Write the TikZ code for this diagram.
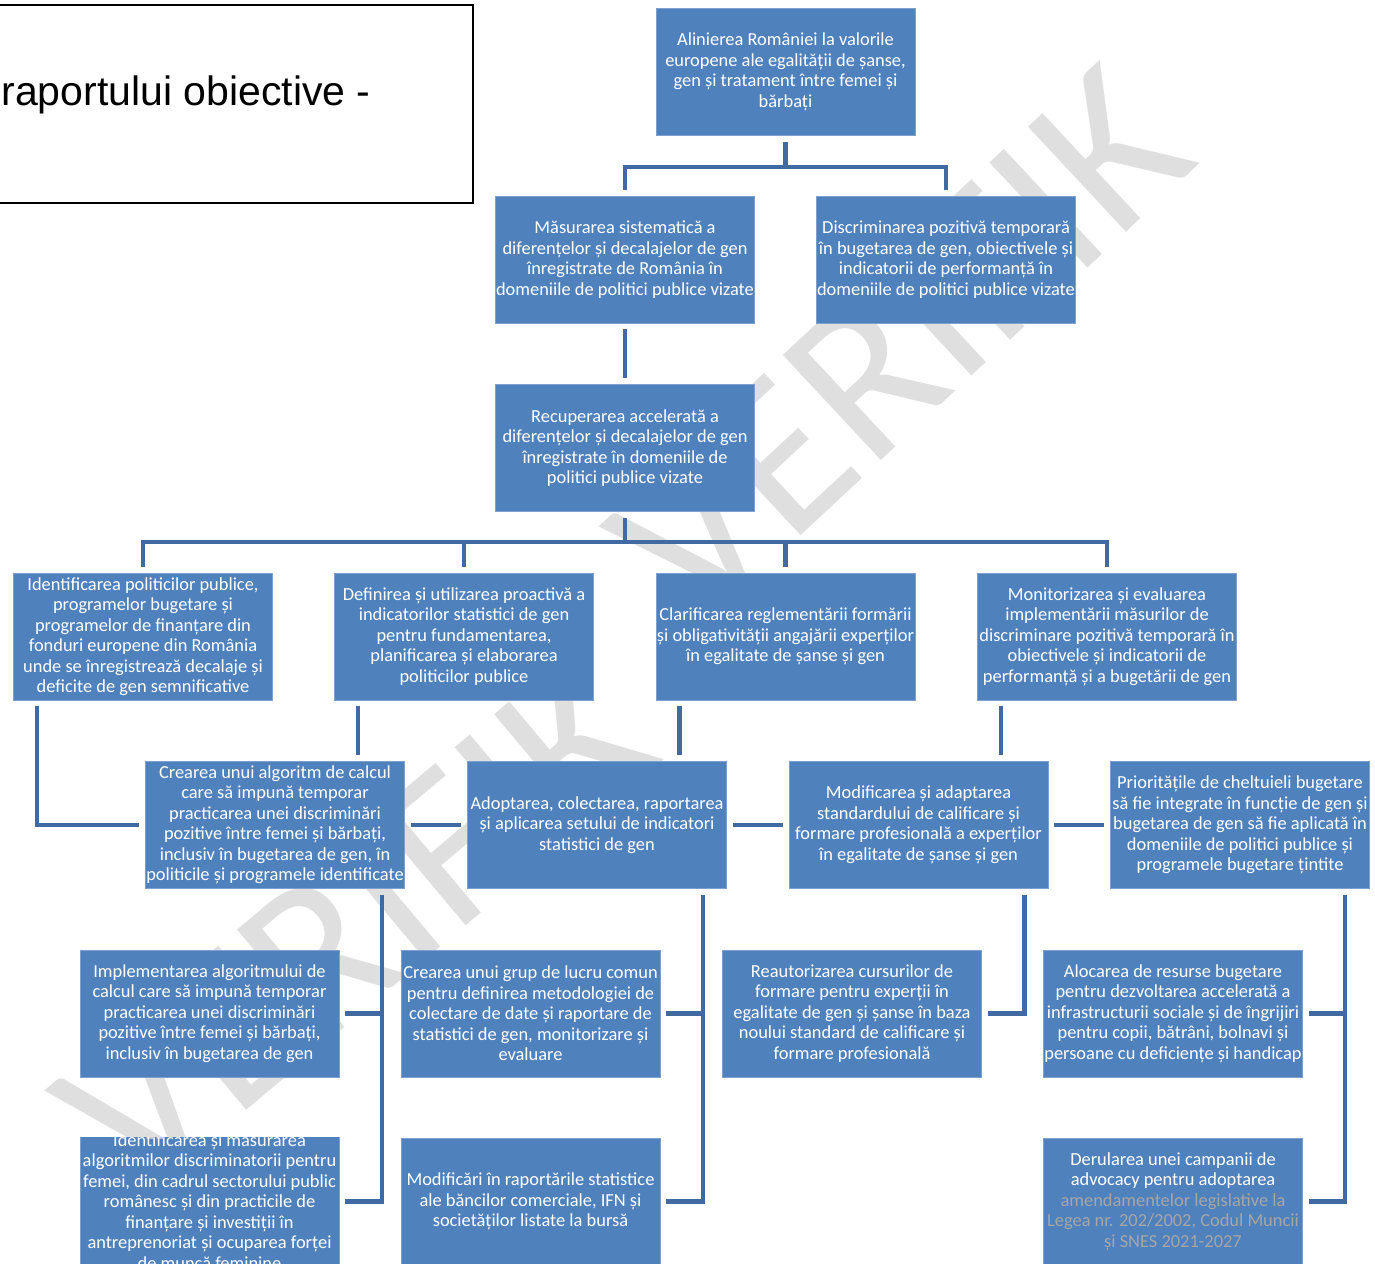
\documentclass[tikz,border=0pt]{standalone}
\usepackage{fontspec}
\newfontfamily\boxfont{Carlito}
\newfontfamily\headfont{Liberation Sans}
\definecolor{boxblue}{RGB}{79,129,189}
\definecolor{boxrim}{RGB}{125,160,208}
\definecolor{linkblue}{RGB}{66,106,162}
\definecolor{markgrey}{RGB}{223,223,223}
\definecolor{faintgrey}{RGB}{166,166,166}
\tikzset{
  goalbox/.style={rectangle, fill=boxblue, draw=boxrim, line width=0.4pt,
    minimum width=129.5pt, minimum height=63.5pt, inner sep=0pt,
    align=center, text=white, font=\boxfont\fontsize{9.2}{10.25}\selectfont},
  linkline/.style={draw=linkblue, line width=2.2pt},
  gapped/.style={shorten <=3pt, shorten >=3pt},
  watermark/.style={text=markgrey, inner sep=0pt, font=\boxfont\fontsize{112}{112}\selectfont}
}
\begin{document}
\begin{tikzpicture}[x=0.5pt,y=-0.5pt]
\useasboundingbox (0,0) rectangle (1375,1263);
\clip (0,0) rectangle (1375,1263);

% watermark behind everything
\node[watermark, rotate=43] (wmup) at (900,345) {VERIFIK};
\node[watermark, rotate=40] (wmlow) at (355,925) {VERIFIK};

% heading box, cut at the left edge
\node[draw=black, line width=0.8pt, fill=white, minimum width=336.5pt, minimum height=99pt, inner sep=0pt] (head) at (136.5,104) {};
\node[font=\headfont\fontsize{20.5}{24}\selectfont, anchor=base east, inner sep=0pt] (headtext) at (371,105) {raportului obiective -};

% level 1 and 2
\node[goalbox] (a) at (785.5,72) {Alinierea României la valorile\\europene ale egalității de șanse,\\gen și tratament între femei și\\bărbați};
\node[goalbox] (b1) at (625,259.5) {Măsurarea sistematică a\\diferențelor și decalajelor de gen\\înregistrate de România în\\domeniile de politici publice vizate};
\node[goalbox] (b2) at (946,259.5) {Discriminarea pozitivă temporară\\în bugetarea de gen, obiectivele și\\indicatorii de performanță în\\domeniile de politici publice vizate};
\node[goalbox] (c) at (625,448) {Recuperarea accelerată a\\diferențelor și decalajelor de gen\\înregistrate în domeniile de\\politici publice vizate};

% level 4
\node[goalbox] (d1) at (143,636.5) {Identificarea politicilor publice,\\programelor bugetare și\\programelor de finanțare din\\fonduri europene din România\\unde se înregistrează decalaje și\\deficite de gen semnificative};
\node[goalbox] (d2) at (464,636.5) {Definirea și utilizarea proactivă a\\indicatorilor statistici de gen\\pentru fundamentarea,\\planificarea și elaborarea\\politicilor publice};
\node[goalbox] (d3) at (785.5,636.5) {Clarificarea reglementării formării\\și obligativității angajării experților\\în egalitate de șanse și gen};
\node[goalbox] (d4) at (1107,636.5) {Monitorizarea și evaluarea\\implementării măsurilor de\\discriminare pozitivă temporară în\\obiectivele și indicatorii de\\performanță și a bugetării de gen};

% level 5
\node[goalbox] (e1) at (275,825) {Crearea unui algoritm de calcul\\care să impună temporar\\practicarea unei discriminări\\pozitive între femei și bărbați,\\inclusiv în bugetarea de gen, în\\politicile și programele identificate};
\node[goalbox] (e2) at (597,825) {Adoptarea, colectarea, raportarea\\și aplicarea setului de indicatori\\statistici de gen};
\node[goalbox] (e3) at (918.5,825) {Modificarea și adaptarea\\standardului de calificare și\\formare profesională a experților\\în egalitate de șanse și gen};
\node[goalbox] (e4) at (1240,825) {Prioritățile de cheltuieli bugetare\\să fie integrate în funcție de gen și\\bugetarea de gen să fie aplicată în\\domeniile de politici publice și\\programele bugetare țintite};

% level 6
\node[goalbox] (f1) at (209.5,1013.5) {Implementarea algoritmului de\\calcul care să impună temporar\\practicarea unei discriminări\\pozitive între femei și bărbați,\\inclusiv în bugetarea de gen};
\node[goalbox] (f2) at (530.5,1013.5) {Crearea unui grup de lucru comun\\pentru definirea metodologiei de\\colectare de date și raportare de\\statistici de gen, monitorizare și\\evaluare};
\node[goalbox] (f3) at (852,1013.5) {Reautorizarea cursurilor de\\formare pentru experții în\\egalitate de gen și șanse în baza\\noului standard de calificare și\\formare profesională};
\node[goalbox] (f4) at (1173,1013.5) {Alocarea de resurse bugetare\\pentru dezvoltarea accelerată a\\infrastructurii sociale și de îngrijiri\\pentru copii, bătrâni, bolnavi și\\persoane cu deficiențe și handicap};

% level 7
\begin{scope}
\clip (70,1137.5) rectangle (350,1270);
\node[goalbox] (g1) at (209.5,1201.5) {Identificarea și măsurarea\\algoritmilor discriminatorii pentru\\femei, din cadrul sectorului public\\românesc și din practicile de\\finanțare și investiții în\\antreprenoriat și ocuparea forței\\de muncă feminine};
\end{scope}
\node[goalbox] (g2) at (530.5,1201.5) {Modificări în raportările statistice\\ale băncilor comerciale, IFN și\\societăților listate la bursă};
\node[goalbox] (g4) at (1173,1201.5) {Derularea unei campanii de\\advocacy pentru adoptarea\\\textcolor{faintgrey}{amendamentelor legislative la}\\\textcolor{faintgrey}{Legea nr. 202/2002, Codul Muncii}\\\textcolor{faintgrey}{și SNES 2021-2027}};

% connectors
\draw[linkline, shorten <=3pt] (a.south) -- ++(0,31) coordinate (ja);
\draw[linkline, shorten >=3pt] (ja) -| (b1.north);
\draw[linkline, shorten >=3pt] (ja) -| (b2.north);
\draw[linkline, gapped] (b1) -- (c);
\draw[linkline, shorten <=3pt] (c.south) -- ++(0,30) coordinate (jc);
\draw[linkline, shorten >=3pt] (jc) -| (d1.north);
\draw[linkline, shorten >=3pt] (jc) -| (d2.north);
\draw[linkline, shorten >=3pt] (jc) -| (d3.north);
\draw[linkline, shorten >=3pt] (jc) -| (d4.north);

\coordinate (d1x) at ([xshift=12pt]d1.south west);
\coordinate (d2x) at ([xshift=12pt]d2.south west);
\coordinate (d3x) at ([xshift=12pt]d3.south west);
\coordinate (d4x) at ([xshift=12pt]d4.south west);
\draw[linkline, gapped] (d1x) |- (e1.west);
\draw[linkline, gapped] (d2x) -- (d2x |- e1.north);
\draw[linkline, gapped] (d3x) -- (d3x |- e2.north);
\draw[linkline, gapped] (d4x) -- (d4x |- e3.north);
\draw[linkline, gapped] (e1) -- (e2);
\draw[linkline, gapped] (e2) -- (e3);
\draw[linkline, gapped] (e3) -- (e4);

\coordinate (e1x) at ([xshift=-11.5pt]e1.south east);
\coordinate (e2x) at ([xshift=-12pt]e2.south east);
\coordinate (e3x) at ([xshift=-12pt]e3.south east);
\coordinate (e4x) at ([xshift=-12.5pt]e4.south east);
\draw[linkline, gapped] (e1x) |- (g1.east);
\draw[linkline, shorten >=3pt] (e1x |- f1.east) -- (f1.east);
\draw[linkline, gapped] (e2x) |- (g2.east);
\draw[linkline, shorten >=3pt] (e2x |- f2.east) -- (f2.east);
\draw[linkline, gapped] (e3x) |- (f3.east);
\draw[linkline, gapped] (e4x) |- (g4.east);
\draw[linkline, shorten >=3pt] (e4x |- f4.east) -- (f4.east);
\end{tikzpicture}
\end{document}
